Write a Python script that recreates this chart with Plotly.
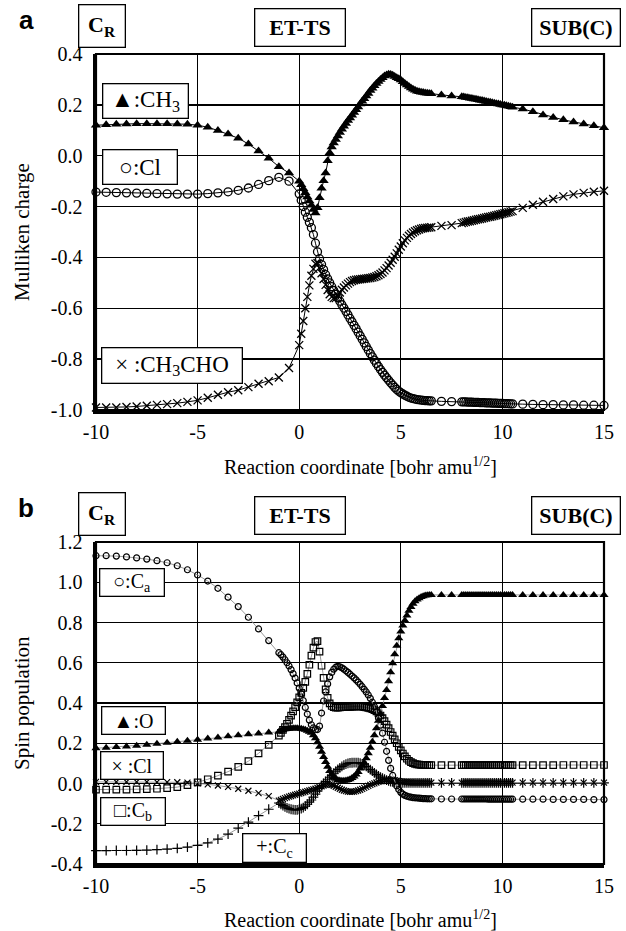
import plotly.graph_objects as go

# ---------------- reaction-coordinate grids (IRC points) ----------------
def seg(a, b, step):
    n = int(round((b - a) / step))
    return [round(a + i * step, 2) for i in range(n + 1)]

x_a = seg(-10, -0.5, 0.5) + seg(0.0, 6.5, 0.1) + [7.0, 7.5] + seg(8.0, 10.5, 0.1) + seg(11.0, 15.0, 0.5)
x_b = seg(-10, -1.5, 0.5) + seg(-1.0, 6.5, 0.1) + [7.0, 7.5] + seg(8.0, 10.5, 0.1) + seg(11.0, 15.0, 0.5)

# ---------------- panel a : Mulliken charge ----------------
ch3_a = ([0.120, 0.122, 0.124, 0.125, 0.126, 0.126, 0.126, 0.126, 0.125, 0.124,
          0.120, 0.112, 0.099, 0.085, 0.069, 0.046, 0.019, -0.010, -0.043, -0.068] +
         [-0.100, -0.114, -0.130, -0.146, -0.162, -0.178, -0.195, -0.212, -0.225, -0.205,
          -0.165, -0.128, -0.098, -0.068, -0.020, 0.012, 0.034, 0.050, 0.064, 0.078,
          0.091, 0.104, 0.116, 0.127, 0.138, 0.148, 0.159, 0.170, 0.181, 0.192,
          0.203, 0.214, 0.224, 0.235, 0.245, 0.256, 0.265, 0.275, 0.284, 0.292,
          0.300, 0.307, 0.313, 0.317, 0.320, 0.319, 0.316, 0.312, 0.307, 0.303,
          0.298, 0.291, 0.284, 0.278, 0.272, 0.266, 0.261, 0.257, 0.254, 0.252,
          0.250, 0.249, 0.247, 0.246, 0.245, 0.244] +
         [0.239, 0.235] +
         [0.232, 0.231, 0.229, 0.228, 0.226, 0.225, 0.223, 0.222, 0.220, 0.218,
          0.217, 0.215, 0.213, 0.211, 0.210, 0.208, 0.206, 0.204, 0.203, 0.201,
          0.199, 0.198, 0.196, 0.195, 0.193, 0.191] +
         [0.184, 0.173, 0.160, 0.150, 0.141, 0.133, 0.125, 0.118, 0.110])

cl_a = ([-0.143, -0.144, -0.145, -0.146, -0.147, -0.148, -0.149, -0.150, -0.151, -0.151,
         -0.151, -0.149, -0.146, -0.142, -0.136, -0.127, -0.113, -0.098, -0.085, -0.100] +
        [-0.150, -0.175, -0.200, -0.222, -0.242, -0.262, -0.283, -0.310, -0.344, -0.378,
         -0.405, -0.428, -0.448, -0.468, -0.484, -0.500, -0.515, -0.530, -0.545, -0.559,
         -0.572, -0.586, -0.599, -0.612, -0.626, -0.640, -0.653, -0.667, -0.680, -0.694,
         -0.708, -0.722, -0.736, -0.750, -0.764, -0.778, -0.791, -0.804, -0.817, -0.829,
         -0.841, -0.852, -0.863, -0.873, -0.883, -0.893, -0.902, -0.911, -0.919, -0.926,
         -0.932, -0.937, -0.942, -0.946, -0.950, -0.953, -0.955, -0.957, -0.959, -0.960,
         -0.961, -0.962, -0.963, -0.963, -0.964, -0.964] +
        [-0.966, -0.967] +
        [-0.968, -0.968, -0.968, -0.969, -0.969, -0.969, -0.970, -0.970, -0.970, -0.971,
         -0.971, -0.971, -0.972, -0.972, -0.972, -0.973, -0.973, -0.973, -0.974, -0.974,
         -0.974, -0.975, -0.975, -0.975, -0.976, -0.976] +
        [-0.977, -0.978, -0.979, -0.979, -0.980, -0.980, -0.981, -0.981, -0.982])

ch3cho_a = ([-0.990, -0.990, -0.990, -0.988, -0.986, -0.983, -0.980, -0.977, -0.973, -0.968,
             -0.962, -0.952, -0.940, -0.930, -0.922, -0.910, -0.897, -0.887, -0.872, -0.835] +
            [-0.745, -0.700, -0.650, -0.600, -0.555, -0.510, -0.472, -0.445, -0.425, -0.422,
             -0.440, -0.462, -0.485, -0.508, -0.528, -0.545, -0.555, -0.560, -0.560, -0.550,
             -0.538, -0.527, -0.518, -0.510, -0.503, -0.497, -0.493, -0.490, -0.488, -0.487,
             -0.486, -0.485, -0.484, -0.483, -0.482, -0.481, -0.479, -0.477, -0.474, -0.470,
             -0.465, -0.459, -0.451, -0.442, -0.432, -0.421, -0.409, -0.397, -0.384, -0.370,
             -0.357, -0.344, -0.333, -0.323, -0.315, -0.308, -0.302, -0.297, -0.293, -0.290,
             -0.287, -0.285, -0.284, -0.283, -0.282, -0.281] +
            [-0.276, -0.273] +
            [-0.265, -0.263, -0.261, -0.259, -0.258, -0.256, -0.254, -0.252, -0.250, -0.249,
             -0.247, -0.245, -0.243, -0.241, -0.240, -0.238, -0.236, -0.234, -0.232, -0.230,
             -0.228, -0.226, -0.224, -0.222, -0.220, -0.218] +
            [-0.205, -0.193, -0.181, -0.170, -0.160, -0.152, -0.146, -0.142, -0.138])

# ---------------- panel b : spin population ----------------
ca_b = ([1.132, 1.132, 1.130, 1.126, 1.121, 1.115, 1.107, 1.097, 1.082, 1.062,
         1.036, 1.006, 0.970, 0.926, 0.879, 0.826, 0.768, 0.710] +
        [0.650, 0.640, 0.628, 0.615, 0.600, 0.584, 0.566, 0.546, 0.524, 0.500,
         0.474, 0.445, 0.412, 0.378, 0.345, 0.315, 0.292, 0.276, 0.267, 0.268,
         0.285, 0.350, 0.410, 0.455, 0.495, 0.530, 0.552, 0.568, 0.578, 0.582,
         0.580, 0.575, 0.568, 0.560, 0.552, 0.543, 0.534, 0.525, 0.515, 0.504,
         0.493, 0.481, 0.468, 0.455, 0.440, 0.423, 0.404, 0.382, 0.356, 0.326,
         0.290, 0.250, 0.205, 0.160, 0.115, 0.075, 0.040, 0.012, -0.012, -0.030,
         -0.044, -0.053, -0.059, -0.063, -0.066, -0.068, -0.070, -0.071, -0.072, -0.073,
         -0.074, -0.075, -0.075, -0.076, -0.076, -0.076] +
        [-0.077, -0.077] +
        [-0.077, -0.077, -0.077, -0.077, -0.077, -0.077, -0.077, -0.077, -0.077, -0.077,
         -0.077, -0.077, -0.077, -0.078, -0.078, -0.078, -0.078, -0.078, -0.078, -0.078,
         -0.078, -0.078, -0.078, -0.078, -0.078, -0.078] +
        [-0.078, -0.078, -0.078, -0.079, -0.079, -0.079, -0.079, -0.080, -0.080])

o_b = ([0.175, 0.178, 0.181, 0.184, 0.188, 0.193, 0.198, 0.203, 0.208, 0.213,
        0.218, 0.223, 0.229, 0.235, 0.240, 0.245, 0.249, 0.253] +
       [0.257, 0.262, 0.266, 0.269, 0.271, 0.272, 0.273, 0.274, 0.274, 0.274,
        0.273, 0.272, 0.270, 0.267, 0.262, 0.257, 0.252, 0.240, 0.225, 0.205,
        0.182, 0.158, 0.132, 0.107, 0.083, 0.062, 0.045, 0.032, 0.023, 0.018,
        0.015, 0.014, 0.014, 0.015, 0.017, 0.021, 0.027, 0.035, 0.045, 0.057,
        0.075, 0.088, 0.103, 0.125, 0.150, 0.178, 0.207, 0.240, 0.275, 0.312,
        0.345, 0.385, 0.425, 0.465, 0.508, 0.553, 0.598, 0.642, 0.685, 0.722,
        0.755, 0.785, 0.810, 0.835, 0.858, 0.877, 0.893, 0.905, 0.914, 0.921,
        0.927, 0.931, 0.934, 0.936, 0.937, 0.937] +
       [0.937, 0.937] +
       [0.937, 0.937, 0.937, 0.937, 0.937, 0.937, 0.937, 0.937, 0.937, 0.937,
        0.937, 0.937, 0.937, 0.937, 0.937, 0.937, 0.937, 0.937, 0.937, 0.937,
        0.937, 0.937, 0.937, 0.937, 0.937, 0.937] +
       [0.937, 0.937, 0.937, 0.937, 0.937, 0.937, 0.937, 0.937, 0.937])

cl_b = ([0.008, 0.008, 0.008, 0.008, 0.008, 0.008, 0.007, 0.007, 0.006, 0.004,
         0.001, -0.004, -0.010, -0.017, -0.026, -0.036, -0.048, -0.063] +
        [-0.085, -0.081, -0.077, -0.073, -0.069, -0.065, -0.062, -0.059, -0.056, -0.053,
         -0.050, -0.047, -0.044, -0.041, -0.038, -0.035, -0.032, -0.029, -0.026, -0.022,
         -0.018, -0.014, -0.010, -0.007, -0.005, -0.005, -0.007, -0.011, -0.016, -0.021,
         -0.026, -0.031, -0.035, -0.038, -0.040, -0.041, -0.041, -0.040, -0.038, -0.035,
         -0.031, -0.027, -0.022, -0.017, -0.012, -0.007, -0.003, 0.001, 0.005, 0.008,
         0.011, 0.014, 0.016, 0.018, 0.019, 0.019, 0.018, 0.016, 0.013, 0.011,
         0.009, 0.008, 0.007, 0.006, 0.005, 0.005, 0.004, 0.004, 0.004, 0.004,
         0.004, 0.004, 0.004, 0.004, 0.004, 0.004] +
        [0.004, 0.004] +
        [0.004, 0.004, 0.004, 0.004, 0.004, 0.004, 0.004, 0.004, 0.004, 0.004,
         0.004, 0.004, 0.004, 0.004, 0.004, 0.004, 0.004, 0.004, 0.004, 0.004,
         0.004, 0.004, 0.004, 0.004, 0.004, 0.004] +
        [0.004, 0.004, 0.004, 0.004, 0.004, 0.004, 0.004, 0.004, 0.004])

cb_b = ([-0.030, -0.030, -0.030, -0.030, -0.029, -0.028, -0.026, -0.023, -0.018, -0.008,
         0.006, 0.021, 0.039, 0.059, 0.083, 0.111, 0.150, 0.192] +
        [0.238, 0.252, 0.266, 0.280, 0.297, 0.316, 0.337, 0.358, 0.380, 0.403,
         0.428, 0.450, 0.475, 0.505, 0.545, 0.590, 0.635, 0.675, 0.703, 0.707,
         0.655, 0.585, 0.525, 0.468, 0.425, 0.398, 0.385, 0.379, 0.377, 0.377,
         0.378, 0.379, 0.380, 0.380, 0.381, 0.381, 0.382, 0.382, 0.383, 0.383,
         0.383, 0.382, 0.380, 0.378, 0.376, 0.373, 0.370, 0.365, 0.358, 0.349,
         0.338, 0.325, 0.310, 0.293, 0.275, 0.256, 0.238, 0.219, 0.200, 0.182,
         0.165, 0.149, 0.135, 0.123, 0.113, 0.106, 0.101, 0.097, 0.095, 0.094,
         0.093, 0.092, 0.092, 0.091, 0.091, 0.091] +
        [0.091, 0.091] +
        [0.091, 0.091, 0.091, 0.091, 0.091, 0.091, 0.091, 0.091, 0.091, 0.091,
         0.091, 0.091, 0.091, 0.091, 0.091, 0.091, 0.091, 0.091, 0.091, 0.091,
         0.091, 0.091, 0.091, 0.091, 0.091, 0.091] +
        [0.091, 0.091, 0.091, 0.091, 0.092, 0.092, 0.092, 0.092, 0.092])

cc_b = ([-0.334, -0.334, -0.333, -0.333, -0.332, -0.331, -0.329, -0.326, -0.322, -0.316,
         -0.307, -0.295, -0.276, -0.252, -0.222, -0.192, -0.160, -0.128] +
        [-0.097, -0.104, -0.110, -0.116, -0.121, -0.125, -0.128, -0.130, -0.131, -0.131,
         -0.129, -0.125, -0.120, -0.112, -0.103, -0.093, -0.082, -0.068, -0.053, -0.038,
         -0.024, -0.011, 0.001, 0.011, 0.021, 0.031, 0.041, 0.051, 0.061, 0.070,
         0.078, 0.085, 0.091, 0.096, 0.100, 0.102, 0.103, 0.104, 0.104, 0.103,
         0.101, 0.097, 0.092, 0.085, 0.077, 0.069, 0.061, 0.053, 0.045, 0.038,
         0.032, 0.026, 0.021, 0.017, 0.013, 0.010, 0.008, 0.006, 0.005, 0.004,
         0.003, 0.003, 0.003, 0.003, 0.003, 0.003, 0.003, 0.003, 0.003, 0.003,
         0.003, 0.003, 0.003, 0.003, 0.003, 0.003] +
        [0.003, 0.003] +
        [0.003, 0.003, 0.003, 0.003, 0.003, 0.003, 0.003, 0.003, 0.003, 0.003,
         0.003, 0.003, 0.003, 0.003, 0.003, 0.003, 0.003, 0.003, 0.003, 0.003,
         0.003, 0.003, 0.003, 0.003, 0.003, 0.003] +
        [0.003, 0.003, 0.003, 0.003, 0.003, 0.003, 0.003, 0.003, 0.003])

x_ticks = [-10, -5, 0, 5, 10, 15]
ya_ticks = [-1.0, -0.8, -0.6, -0.4, -0.2, 0.0, 0.2, 0.4]
yb_ticks = [-0.4, -0.2, 0.0, 0.2, 0.4, 0.6, 0.8, 1.0, 1.2]

# ---------------- figure ----------------
W, H = 626, 931
ML, MR, MT, MB = 96, 22, 54, 67
PW, PH = W - ML - MR, H - MT - MB
SERIF = "Liberation Serif"
SANS = "Liberation Sans"

def px2paper(px, py):
    return (px - ML) / PW, (H - MB - py) / PH

fig = go.Figure()

def add(x, y, sym, size, lw, ax, linecolor, fill="black"):
    fig.add_trace(go.Scatter(
        x=x, y=y, mode="lines+markers", xaxis=ax[0], yaxis=ax[1],
        line=dict(color=linecolor, width=1),
        marker=dict(symbol=sym, size=size, color=fill,
                    line=dict(color="black", width=lw)),
        cliponaxis=False, showlegend=False, hoverinfo="skip"))

A = ("x", "y")
B = ("x2", "y2")
add(x_a, ch3cho_a, "x-thin-open", 8, 1.3, A, "black")
add(x_a, cl_a, "circle-open", 8, 1.3, A, "black")
add(x_a, ch3_a, "triangle-up", 9, 0, A, "black")

add(x_b, cc_b, "cross-thin-open", 7, 1.2, B, "#999999")
add(x_b, cl_b, "x-thin-open", 6, 1.2, B, "#999999")
add(x_b, cb_b, "square-open", 6.5, 1.2, B, "#999999")
add(x_b, ca_b, "circle-open", 6, 1.2, B, "#999999")
add(x_b, o_b, "triangle-up", 8, 0, B, "#999999")

ya_dom = [(H - MB - 410) / PH, 1.0]
yb_dom = [0.0, (H - MB - 542) / PH]

tickfont = dict(family=SERIF, size=20, color="black")
common_x = dict(range=[-10, 15], tickvals=x_ticks, ticktext=[str(v) for v in x_ticks],
                showgrid=True, gridcolor="black", gridwidth=1.4, zeroline=False,
                showline=True, linecolor="black", linewidth=3.5, ticks="",
                ticklabelstandoff=1, tickfont=tickfont)

def yax(dom, rng, ticks, anchor):
    return dict(domain=dom, range=rng, tickvals=ticks,
                ticktext=["%.1f" % v for v in ticks], anchor=anchor,
                showgrid=True, gridcolor="black", gridwidth=1.4, zeroline=False,
                showline=True, linecolor="black", linewidth=3.5, ticks="",
                ticklabelstandoff=6, tickfont=tickfont)

fig.update_layout(
    width=W, height=H, margin=dict(l=ML, r=MR, t=MT, b=MB),
    paper_bgcolor="white", plot_bgcolor="white",
    font=dict(family=SERIF, color="black"),
    xaxis=dict(common_x, domain=[0, 1], anchor="y"),
    yaxis=yax(ya_dom, [-1.0, 0.4], ya_ticks, "x"),
    xaxis2=dict(common_x, domain=[0, 1], anchor="y2"),
    yaxis2=yax(yb_dom, [-0.4, 1.2], yb_ticks, "x2"),
)

# top/right frame lines
for xr, yr in (("x domain", "y domain"), ("x2 domain", "y2 domain")):
    fig.add_shape(type="rect", xref=xr, yref=yr, x0=0, x1=1, y0=0, y1=1,
                  line=dict(color="black", width=2.2), layer="above")

ann = []

def box(text, x0, y0, x1, y1, size, bold=False, bw=1.3):
    cx, cy = px2paper((x0 + x1) / 2, (y0 + y1) / 2)
    t = "<b>%s</b>" % text if bold else text
    ann.append(dict(text=t, x=cx, y=cy, xref="paper", yref="paper",
                    xanchor="center", yanchor="middle", showarrow=False,
                    width=(x1 - x0) - 2 * bw, height=(y1 - y0) - 2 * bw,
                    borderpad=0, borderwidth=bw, bordercolor="black", bgcolor="white",
                    align="center", valign="middle",
                    font=dict(family=SERIF, size=size, color="black")))

def label(text, px, py, size, angle=0, family=SERIF):
    cx, cy = px2paper(px, py)
    ann.append(dict(text=text, x=cx, y=cy, xref="paper", yref="paper",
                    xanchor="center", yanchor="middle", showarrow=False,
                    textangle=angle, font=dict(family=family, size=size, color="black")))

for off, letter in ((0, "a"), (488, "b")):
    label("<b>%s</b>" % letter, 26, 20 + off, 26, family=SANS)
    box("C<sub>R</sub>", 78, 4 + off, 126, 48 + off, 22, bold=True)
    box("ET-TS", 254, 8 + off, 346, 47 + off, 22, bold=True)
    box("SUB(C)", 531, 8 + off, 621, 47 + off, 22, bold=True)

# panel a legend boxes
box("▲:CH<sub>3</sub>", 102, 83, 189, 119, 23)
box("○:Cl", 102, 149, 178, 185, 23)
box("× :CH<sub>3</sub>CHO", 101, 347, 243, 384, 23)
# panel b legend boxes
box("○:C<sub>a</sub>", 99, 568, 165, 597, 20)
box("▲:O", 101, 706, 166, 735, 20)
box("× :Cl", 100, 751, 164, 780, 20)
box("□:C<sub>b</sub>", 100, 797, 166, 826, 20)
box("+:C<sub>c</sub>", 242, 833, 307, 863, 20)

# axis titles
label("Mulliken charge", 22, 232, 21, angle=-90)
label("Spin population", 22, 703, 21, angle=-90)
label("Reaction coordinate [bohr amu<sup>1/2</sup>]", 360, 466, 20)
label("Reaction coordinate [bohr amu<sup>1/2</sup>]", 360, 919, 20)

fig.update_layout(annotations=ann)
fig.write_html("out.html",
               config={"displayModeBar": False, "staticPlot": True},
               post_script="document.body.style.margin='0';"
                           "document.body.style.overflow='hidden';")
